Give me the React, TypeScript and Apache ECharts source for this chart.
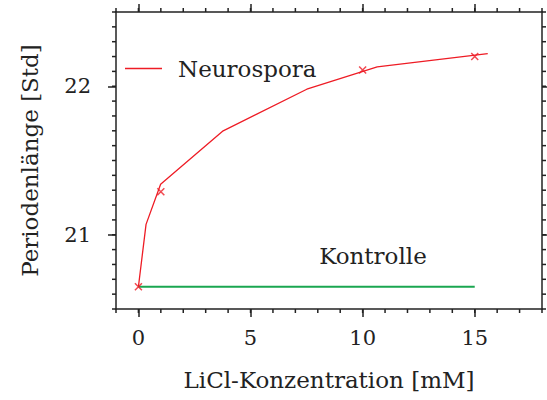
import React, { useEffect, useRef } from "react";
import * as echarts from "echarts";

// Fitted curve (smooth line) for Neurospora
const curveX = [0, 0.34, 0.99, 3.78, 7.51, 10.65, 15.58];
const curveY = [20.65, 21.07, 21.34, 21.7, 21.98, 22.13, 22.22];
// Measured points (crosses)
const pointX = [0, 1, 10, 15];
const pointY = [20.65, 21.29, 22.11, 22.2];
// Control line
const controlX = [0, 15];
const controlY = [20.65, 20.65];

const xTickLabels = [0, 5, 10, 15];
const yTickLabels = [21, 22];
const xMinorTicks = [-1, 0, 1, 2, 3, 4, 5, 6, 7, 8, 9, 10, 11, 12, 13, 14, 15, 16, 17, 18];
const yMinorTicks = [
  20.5, 20.6, 20.7, 20.8, 20.9, 21.0, 21.1, 21.2, 21.3, 21.4, 21.5,
  21.6, 21.7, 21.8, 21.9, 22.0, 22.1, 22.2, 22.3, 22.4, 22.5,
];

const X_MIN = -1;
const X_MAX = 18;
const Y_MIN = 20.5;
const Y_MAX = 22.5;

const FONT = "DejaVu Serif";
const TEXT = "#222222";
const RED = "#ee1c25";
const GREEN = "#1aa650";
const BIG = 23;
const TICK = 21;

export default function App() {
  const ref = useRef<HTMLDivElement>(null);
  useEffect(() => {
    const chart = echarts.init(ref.current!, null, { renderer: "svg" });
    const axisLine = { show: true, onZero: false, lineStyle: { color: TEXT, width: 1.5 } };
    const tickStyle = { color: TEXT, width: 1.5 };
    const xBase = { type: "value", min: X_MIN, max: X_MAX, splitLine: { show: false }, axisLine };
    const yBase = { type: "value", min: Y_MIN, max: Y_MAX, splitLine: { show: false }, axisLine };
    const lineStyle = { stroke: TEXT, lineWidth: 1.5 };
    chart.setOption({
      animation: false,
      textStyle: { fontFamily: FONT },
      grid: { left: 116, top: 12, right: 5, bottom: 91, containLabel: false },
      legend: {
        data: [{ name: "Neurospora", icon: "rect" }],
        left: 125,
        top: 57,
        itemWidth: 37,
        itemHeight: 1.5,
        padding: 0,
        textStyle: { fontFamily: FONT, fontSize: BIG, color: TEXT, padding: [0, 0, 0, 11] },
      },
      xAxis: [
        {
          ...xBase,
          position: "bottom",
          axisTick: { show: true, length: 8, customValues: xTickLabels, lineStyle: tickStyle },
          axisLabel: { customValues: xTickLabels, margin: 18, fontFamily: FONT, fontSize: TICK, color: TEXT },
          name: "LiCl-Konzentration [mM]",
          nameLocation: "middle",
          nameGap: 59,
          nameTextStyle: { fontFamily: FONT, fontSize: BIG, color: TEXT },
        },
        {
          ...xBase,
          position: "top",
          axisTick: { show: true, length: 8, customValues: xTickLabels, lineStyle: tickStyle },
          axisLabel: { show: false },
        },
      ],
      yAxis: [
        {
          ...yBase,
          position: "left",
          axisTick: { show: true, length: 8, customValues: yTickLabels, lineStyle: tickStyle },
          axisLabel: { customValues: yTickLabels, margin: 25, fontFamily: FONT, fontSize: TICK, color: TEXT },
          name: "Periodenlänge [Std]",
          nameLocation: "middle",
          nameGap: 75,
          nameTextStyle: { fontFamily: FONT, fontSize: BIG, color: TEXT },
        },
        {
          ...yBase,
          position: "right",
          axisTick: { show: true, length: 8, customValues: yTickLabels, lineStyle: tickStyle },
          axisLabel: { show: false },
        },
      ],
      series: [
        {
          name: "xMinor",
          type: "custom",
          silent: true,
          clip: false,
          data: xMinorTicks.map((v) => [v, Y_MIN]),
          renderItem: (params: any, api: any) => {
            const v = api.value(0);
            const b = api.coord([v, Y_MIN]);
            const t = api.coord([v, Y_MAX]);
            return {
              type: "group",
              children: [
                { type: "line", shape: { x1: b[0], y1: b[1], x2: b[0], y2: b[1] + 4 }, style: lineStyle },
                { type: "line", shape: { x1: t[0], y1: t[1], x2: t[0], y2: t[1] - 4 }, style: lineStyle },
              ],
            };
          },
        },
        {
          name: "yMinor",
          type: "custom",
          silent: true,
          clip: false,
          data: yMinorTicks.map((v) => [X_MIN, v]),
          renderItem: (params: any, api: any) => {
            const v = api.value(1);
            const l = api.coord([X_MIN, v]);
            const r = api.coord([X_MAX, v]);
            return {
              type: "group",
              children: [
                { type: "line", shape: { x1: l[0], y1: l[1], x2: l[0] - 4, y2: l[1] }, style: lineStyle },
                { type: "line", shape: { x1: r[0], y1: r[1], x2: r[0] + 4, y2: r[1] }, style: lineStyle },
              ],
            };
          },
        },
        {
          name: "Kontrolle",
          type: "line",
          data: controlX.map((x, i) => [x, controlY[i]]),
          symbol: "none",
          lineStyle: { color: GREEN, width: 2 },
          itemStyle: { color: GREEN },
          markPoint: {
            symbol: "circle",
            symbolSize: 0,
            data: [{ coord: [10.46, 20.855], value: "Kontrolle" }],
            label: {
              show: true,
              position: "inside",
              formatter: "Kontrolle",
              fontFamily: FONT,
              fontSize: BIG,
              color: TEXT,
            },
          },
        },
        {
          name: "Neurospora",
          type: "line",
          data: curveX.map((x, i) => [x, curveY[i]]),
          symbol: "none",
          lineStyle: { color: RED, width: 1.3 },
          itemStyle: { color: RED },
        },
        {
          name: "Messpunkte",
          type: "scatter",
          data: pointX.map((x, i) => [x, pointY[i]]),
          symbol: "path://M0,0L10,10M10,0L0,10",
          symbolSize: 7,
          itemStyle: { color: "none", borderColor: RED, borderWidth: 1.5 },
          z: 5,
        },
      ],
    });
    return () => chart.dispose();
  }, []);
  return (
    <div>
      <style>{"svg text { font-family: 'DejaVu Serif' !important; }"}</style>
      <div ref={ref} style={{ width: 547, height: 400, position: "absolute", left: 0, top: 0 }} />
    </div>
  );
}
